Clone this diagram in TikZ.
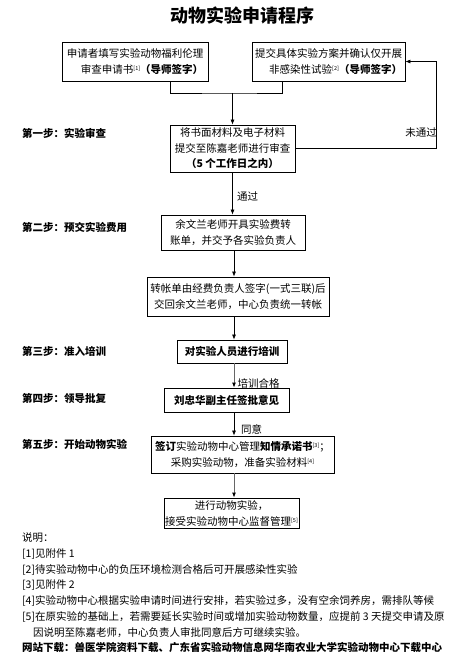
\documentclass[tikz,border=0pt]{standalone}
\usepackage{fontspec}
\setmainfont{Noto Sans CJK SC}
\usetikzlibrary{arrows.meta,calc}
\newcommand\boxfont{\fontsize{10.5}{16}\selectfont}
\newcommand\sref[1]{\raisebox{3pt}{\fontsize{5.5}{6}\selectfont[#1]}}
\tikzset{
  box/.style={draw, line width=0.8pt, inner sep=1pt, align=center, font=\boxfont},
  steplabel/.style={anchor=west, inner sep=0pt, font=\boxfont\bfseries},
  edgelabel/.style={inner sep=0pt, font=\boxfont},
  note/.style={anchor=west, inner sep=0pt, font=\boxfont},
  conn/.style={line width=0.7pt},
  arr/.style={line width=0.7pt, -{Latex[length=5pt,width=4pt]}},
  garr/.style={line width=0.9pt, draw=black!60, -{Latex[length=5pt,width=4pt,fill=black,color=black]}}
}
\begin{document}
\begin{tikzpicture}[x=1pt,y=-1pt]
\path[fill=white,use as bounding box] (0,0) rectangle (470,659);

\node[inner sep=0pt, font=\fontsize{18}{20}\selectfont\bfseries] (title) at (242,16) {动物实验申请程序};

\node[box, align=right, minimum width=146pt, minimum height=39pt] (a) at (135,61.5) {申请者填写实验动物福利伦理\\审查申请书\sref{1}\textbf{（导师签字）}};
\node[box, align=right, minimum width=153pt, minimum height=39pt] (b) at (328.5,61.5) {提交具体实验方案并确认仅开展\\非感染性试验\sref{2}\textbf{（导师签字）}};
\node[box, minimum width=125pt, minimum height=47pt, font=\fontsize{10.5}{15.5}\selectfont] (c) at (232.5,148.5) {将书面材料及电子材料\\提交至陈嘉老师进行审查\\\textbf{（5 个工作日之内）}};
\node[box, minimum width=144pt, minimum height=35pt] (d) at (233,232.5) {余文兰老师开具实验费转\\账单，并交予各实验负责人};
\node[box, minimum width=182pt, minimum height=39pt] (e) at (238,296.5) {转帐单由经费负责人签字(一式三联)后\\交回余文兰老师，中心负责统一转帐};
\node[box, minimum width=110pt, minimum height=23pt, font=\boxfont\bfseries] (f) at (232,351.5) {对实验人员进行培训};
\node[box, minimum width=125pt, minimum height=24pt, font=\boxfont\bfseries] (g) at (226.5,400) {刘忠华副主任签批意见};
\node[box, minimum width=183pt, minimum height=37pt] (h) at (242.5,454.5) {\textbf{签订}实验动物中心管理\textbf{知情承诺书}\sref{3}；\\采购实验动物，准备实验材料\sref{4}};
\node[box, minimum width=135pt, minimum height=30pt] (i) at (231.5,513) {进行动物实验，\\接受实验动物中心监督管理\sref{5}};

% step labels
\node[steplabel] (s1) at (22,133) {第一步：实验审查};
\node[steplabel] (s2) at (22,227) {第二步：预交实验费用};
\node[steplabel] (s3) at (22,351) {第三步：准入培训};
\node[steplabel] (s4) at (22,398) {第四步：领导批复};
\node[steplabel] (s5) at (22,444) {第五步：开始动物实验};

% connectors
\coordinate (j) at (232.5,93);
\coordinate (col) at (234,0);
\draw[conn] ([xshift=35pt]a.south) |- (j) -| ([xshift=-46.5pt]b.south);
\draw[arr] (j) -- (c.north);
\coordinate (fb) at (436,61.5);
\draw[arr] (c.east) -| (fb) -- (b.east);
\node[edgelabel] (l1) at (421,133) {未通过};
\draw[arr] (c.south) -- (c.south |- d.north);
\node[edgelabel] (l2) at (247.5,196) {通过};
\draw[arr] (d.south -| col) -- (e.north -| col);
\draw[arr] (e.south -| col) -- (f.north -| col);
\draw[garr] (f.south -| col) -- (g.north -| col);
\node[edgelabel] (l3) at (258.5,383) {培训合格};
\draw[arr] (g.south -| col) -- (h.north -| col);
\node[edgelabel] (l4) at (251.5,429) {同意};
\draw[garr] (h.south -| col) -- (i.north -| col);

% notes
\node[note] (n0) at (22,538) {说明：};
\node[note] (n1) at (22,554) {[1]见附件 1};
\node[note] (n2) at (22,570) {[2]待实验动物中心的负压环境检测合格后可开展感染性实验};
\node[note] (n3) at (22,585) {[3]见附件 2};
\node[note] (n4) at (22,601) {[4]实验动物中心根据实验申请时间进行安排，若实验过多，没有空余饲养房，需排队等候};
\node[note] (n5) at (22,617) {[5]在原实验的基础上，若需要延长实验时间或增加实验动物数量，应提前 3 天提交申请及原};
\node[note] (n6) at (33,633) {因说明至陈嘉老师，中心负责人审批同意后方可继续实验。};
\node[note, font=\boxfont\bfseries] (n7) at (22,647) {网站下载：兽医学院资料下载、广东省实验动物信息网华南农业大学实验动物中心下载中心};
\end{tikzpicture}
\end{document}
